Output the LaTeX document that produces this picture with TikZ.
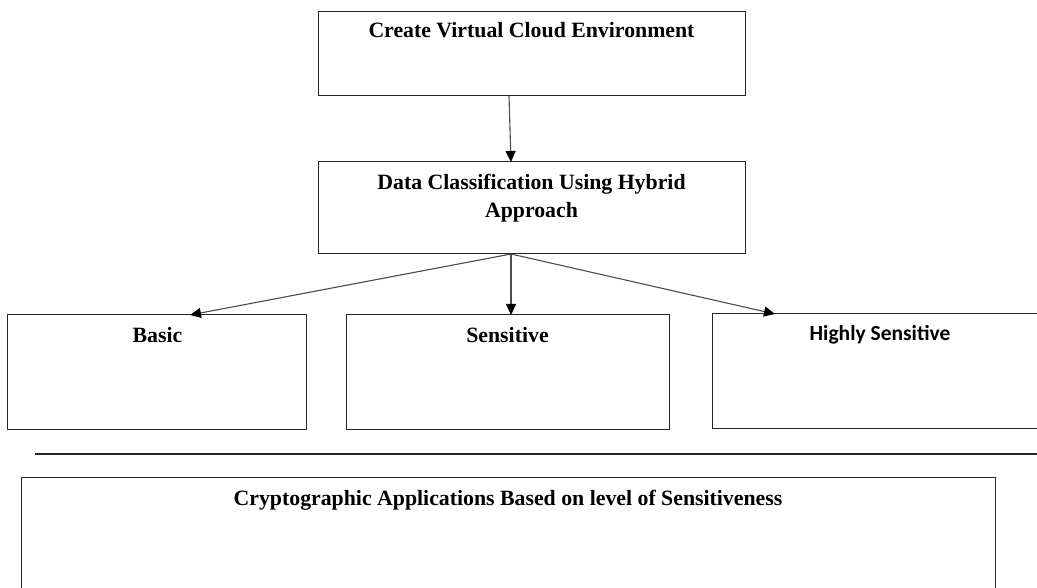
\documentclass[tikz,border=0pt]{standalone}
\usepackage{fontspec}
\setmainfont{Liberation Serif}
\newfontfamily\calib{Carlito}
\usetikzlibrary{arrows.meta}
\begin{document}
\begin{tikzpicture}[x=1pt,y=-1pt,
  box/.style={draw=black!85, line width=1pt, inner sep=0pt, outer sep=0pt},
  lbl/.style={anchor=base, font=\fontsize{21.8}{28}\selectfont\bfseries, inner sep=0pt},
  arr/.style={draw=black!70, line width=1.1pt, -{Triangle[length=11pt,width=10pt,color=black,fill=black]}}]
\useasboundingbox (0,0) rectangle (1037,588);
\clip (0,0) rectangle (1037,588);
% boxes
\node[box, minimum width=427pt, minimum height=84pt] (cve) at (531.5,54) {};
\node[box, minimum width=427pt, minimum height=92pt] (dca) at (531.5,208) {};
\node[box, minimum width=299pt, minimum height=114pt] (basic) at (156.5,372) {};
\node[box, minimum width=323pt, minimum height=114pt] (sens) at (507.5,372) {};
\node[box, minimum width=348pt, minimum height=114pt] (high) at (886,371) {};
\node[box, minimum width=974pt, minimum height=143pt] (crypto) at (508,548.5) {};
% labels
\node[lbl] (t1) at (531.5,38) {Create Virtual Cloud Environment};
\node[lbl] (t2a) at (531.5,190) {Data Classification Using Hybrid};
\node[lbl] (t2b) at (531.5,218) {Approach};
\node[lbl] (t3) at (157.5,342) {Basic};
\node[lbl] (t4) at (507.5,342) {Sensitive};
\node[lbl, font=\fontsize{21.5}{28}\selectfont\calib\bfseries] (t5) at (880,341) {Highly Sensitive};
\node[lbl] (t6) at (508,505) {Cryptographic Applications Based on level of Sensitiveness};
% separator
\coordinate (ls) at (35,454);
\coordinate (le) at (1045,454);
\draw[black!85, line width=1.2pt] (ls) -- (le);
% arrows
\draw[arr] ([xshift=-22.5pt]cve.south) -- ([xshift=-20.5pt]dca.north);
\draw[arr] ([xshift=-20.5pt]dca.south) -- ([xshift=33.5pt]basic.north);
\draw[arr] ([xshift=-20.5pt]dca.south) -- ([xshift=3.5pt]sens.north);
\draw[arr] ([xshift=-20.5pt]dca.south) -- ([xshift=-111pt]high.north);
\end{tikzpicture}
\end{document}
